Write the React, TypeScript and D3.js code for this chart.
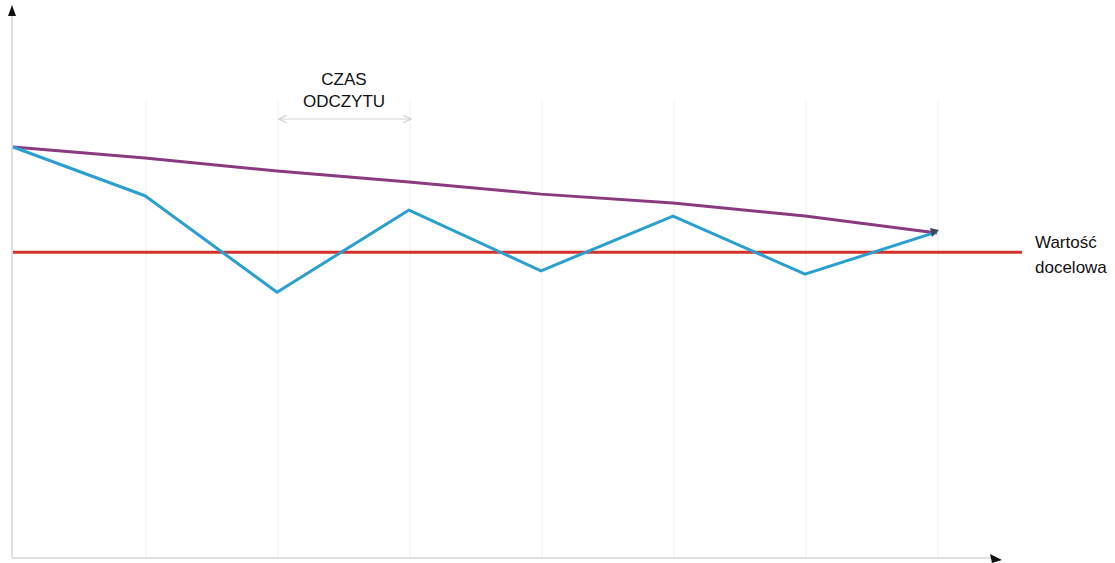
import React from "react";
import * as d3 from "d3";

const steps = [0, 1, 2, 3, 4, 5, 6, 7];
const measured = [75.0, 66.1, 48.5, 63.5, 52.4, 62.4, 51.8, 59.5];
const trend = [75.0, 73.0, 70.6, 68.6, 66.4, 64.8, 62.4, 59.3];
const target = 55.8;
const gridSteps = [1, 2, 3, 4, 5, 6, 7];
const readLabel = ["CZAS", "ODCZYTU"];
const targetLabel = ["Wartość", "docelowa"];

export default function App() {
  const W = 1115, H = 563;
  const x = d3.scaleLinear().domain([0, 7]).range([13, 937]);
  const y = d3.scaleLinear().domain([0, 100]).range([558, 10]);
  const line = d3.line<number>().x((_, i) => x(steps[i])).y((d) => y(d));
  const font = "Liberation Sans, Arial, sans-serif";
  const axisX = 12, axisY = 558;
  const endX = x(7), endY = y(trend[7]);
  const midX = (x(2) + x(3)) / 2 + 1;
  return (
    <svg width={W} height={H} style={{ position: "absolute", left: 0, top: 0, background: "#fff" }}>
      <defs>
        <marker id="openArrow" viewBox="0 0 10 10" refX="9" refY="5" markerWidth="8" markerHeight="8" orient="auto-start-reverse">
          <path d="M1,1 L9,5 L1,9" fill="none" stroke="#cfcfcf" strokeWidth="1.2" />
        </marker>
      </defs>
      {gridSteps.map((s) => (
        <line key={s} x1={x(s) + 1} x2={x(s) + 1} y1={100} y2={axisY} stroke="#f0f0f0" strokeWidth={1} />
      ))}
      {/* axes */}
      <line x1={axisX} x2={axisX} y1={14} y2={axisY} stroke="#e0e0e0" strokeWidth={2} />
      <line x1={axisX} x2={996} y1={axisY} y2={axisY} stroke="#e0e0e0" strokeWidth={2} />
      <path d={`M${axisX - 4},${16} L${axisX},${5} L${axisX + 4},${16} Z`} fill="#111" />
      <path d={`M${990},${axisY - 4} L${1002},${axisY + 2} L${992},${axisY + 5} Z`} fill="#111" />
      {/* reading time arrow */}
      <line x1={x(2) + 2} x2={x(3) + 2} y1={119} y2={119} stroke="#d4d4d4" strokeWidth={1.2}
        markerStart="url(#openArrow)" markerEnd="url(#openArrow)" />
      <text x={midX} y={85} textAnchor="middle" fontFamily={font} fontSize={17} fill="#111">{readLabel[0]}</text>
      <text x={midX} y={107} textAnchor="middle" fontFamily={font} fontSize={17} fill="#111">{readLabel[1]}</text>
      {/* target */}
      <line x1={13} x2={1022} y1={y(target)} y2={y(target)} stroke="#d3322b" strokeWidth={3} />
      <text x={1035} y={248} fontFamily={font} fontSize={17} fill="#111">{targetLabel[0]}</text>
      <text x={1035} y={273} fontFamily={font} fontSize={17} fill="#111">{targetLabel[1]}</text>
      {/* lines */}
      <path d={line(trend) || ""} fill="none" stroke="#8a3b7f" strokeWidth={3} />
      <path d={line(measured) || ""} fill="none" stroke="#2a9fd2" strokeWidth={3} strokeLinejoin="round" />
      <path d={`M${endX - 7},${endY - 5} L${endX + 2},${endY - 3} L${endX - 5},${endY + 4} Z`} fill="#3a4a5a" />
    </svg>
  );
}
